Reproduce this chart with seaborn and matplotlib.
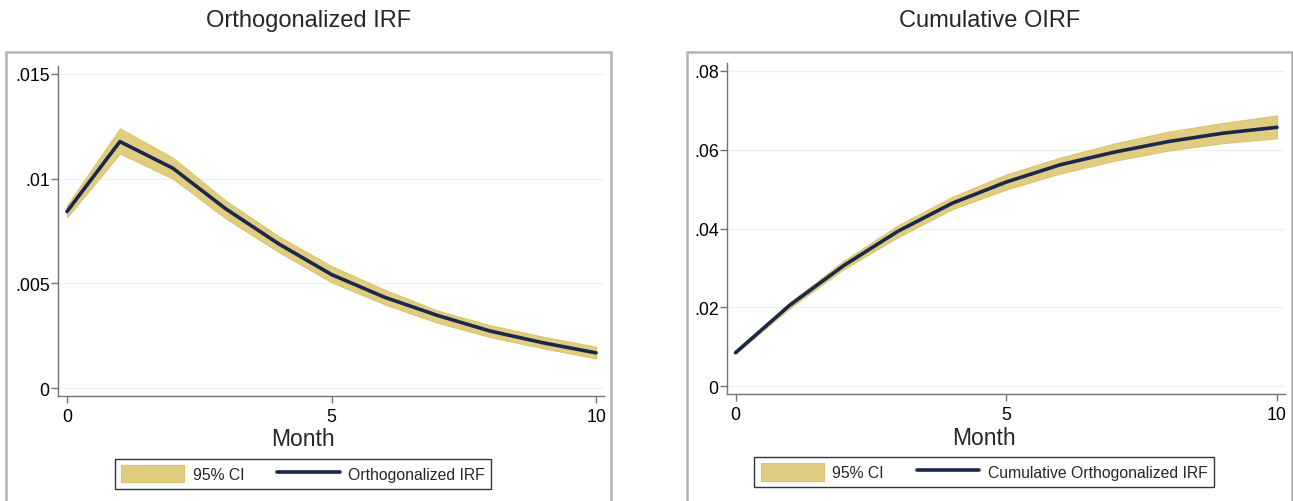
import numpy as np
import pandas as pd
import seaborn as sns
import matplotlib.pyplot as plt
from matplotlib.patches import Rectangle, Patch
from matplotlib.lines import Line2D

# months
month = [0, 1, 2, 3, 4, 5, 6, 7, 8, 9, 10]

# orthogonalized IRF + 95% CI
oirf = [0.00843, 0.01177, 0.01050, 0.00856, 0.00689, 0.00542, 0.00434, 0.00347, 0.00272, 0.00216, 0.00168]
oirf_lo = [0.00815, 0.01120, 0.01000, 0.00810, 0.00650, 0.00505, 0.00400, 0.00312, 0.00243, 0.00190, 0.00142]
oirf_hi = [0.00872, 0.01240, 0.01100, 0.00895, 0.00725, 0.00582, 0.00470, 0.00370, 0.00300, 0.00245, 0.00197]

# cumulative OIRF + 95% CI
coirf = [0.00846, 0.02050, 0.03060, 0.03930, 0.04640, 0.05180, 0.05620, 0.05940, 0.06210, 0.06420, 0.06570]
coirf_lo = [0.00820, 0.01980, 0.02970, 0.03780, 0.04490, 0.04990, 0.05400, 0.05720, 0.05980, 0.06170, 0.06290]
coirf_hi = [0.00870, 0.02120, 0.03180, 0.04080, 0.04800, 0.05370, 0.05800, 0.06160, 0.06460, 0.06680, 0.06870]

# tick labels
left_yticks = [0, 0.005, 0.01, 0.015]
left_ylabels = ['0', '.005', '.01', '.015']
right_yticks = [0, 0.02, 0.04, 0.06, 0.08]
right_ylabels = ['0', '.02', '.04', '.06', '.08']
xticks = [0, 5, 10]

# colors
tan = (0.882, 0.804, 0.510)
tan_edge = (0.86, 0.77, 0.42)
navy = (0.102, 0.157, 0.298)
axgray = (0.45, 0.45, 0.45)
gridc = (0.92, 0.95, 0.95)
framec = (0.70, 0.70, 0.70)

sns.set_style('white')
plt.rcParams['font.family'] = ['Liberation Sans', 'DejaVu Sans']

W, H = 1293, 502
fig = plt.figure(figsize=(W / 100, H / 100), dpi=100)


def px_axes(l, t, r, b):
    return fig.add_axes([l / W, 1 - b / H, (r - l) / W, (b - t) / H])


def panel(ax, y, lo, hi, yticks, ylabels, xlim, ylim, label, xc):
    df = pd.DataFrame({'Month': month, 'y': y})
    ax.fill_between(month, lo, hi, color=tan, edgecolor=tan_edge, lw=0.8, zorder=2)
    sns.lineplot(data=df, x='Month', y='y', ax=ax, color=navy, lw=2.6, zorder=3)
    ax.set_xlim(*xlim)
    ax.set_ylim(*ylim)
    ax.set_yticks(yticks)
    ax.set_yticklabels(ylabels)
    ax.set_xticks(xticks)
    ax.set_xticklabels([str(t) for t in xticks])
    for v in yticks:
        ax.axhline(v, color=gridc, lw=1.0, zorder=1)
    for s in ['top', 'right']:
        ax.spines[s].set_visible(False)
    for s in ['left', 'bottom']:
        ax.spines[s].set_color(axgray)
        ax.spines[s].set_linewidth(1.0)
    ax.tick_params(axis='both', colors=axgray, labelcolor='black', labelsize=12.8,
                   length=5, width=1, direction='out', left=True, bottom=True)
    ax.tick_params(axis='y', pad=1)
    ax.tick_params(axis='x', pad=4)
    ax.set_xlabel('Month', fontsize=16.5, va='center')
    ax.xaxis.set_label_coords(xc, -43 / 330)
    ax.set_ylabel('')
    handles = [Patch(facecolor=tan, edgecolor=tan_edge, lw=0.8),
               Line2D([], [], color=navy, lw=2.6)]
    leg = ax.legend(handles, ['95% CI', label], ncol=2, loc='upper center',
                    bbox_to_anchor=(xc, -0.167), fontsize=11.3, frameon=True,
                    fancybox=False, edgecolor='black', handlelength=4.0,
                    handleheight=1.3, handletextpad=0.55, columnspacing=2.1,
                    borderpad=0.4, borderaxespad=0.5)
    leg.get_frame().set_linewidth(1.0)


axl = px_axes(58, 67, 604, 397)
panel(axl, oirf, oirf_lo, oirf_hi, left_yticks, left_ylabels,
      (-0.17, 10.15), (-0.00038, 0.01538), 'Orthogonalized IRF', 0.449)

axr = px_axes(727, 64, 1285, 395)
panel(axr, coirf, coirf_lo, coirf_hi, right_yticks, right_ylabels,
      (-0.157, 10.148), (-0.00203, 0.08203), 'Cumulative Orthogonalized IRF', 0.461)

# panel frames (open at the bottom of the picture)
for l, r in [(6, 611), (687, 1292)]:
    fig.patches.append(Rectangle((l / W, -0.1), (r - l) / W, 1.1 - 53 / H,
                                 transform=fig.transFigure, fill=False,
                                 edgecolor=framec, lw=1.8))

fig.text(308.5 / W, 1 - 21 / H, 'Orthogonalized IRF', ha='center', va='center', fontsize=17)
fig.text(989.5 / W, 1 - 21 / H, 'Cumulative OIRF', ha='center', va='center', fontsize=17)

fig.savefig('out.png', dpi=100)
